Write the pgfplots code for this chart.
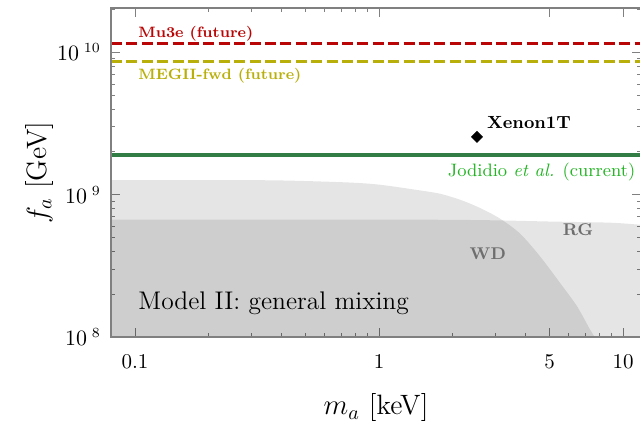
\documentclass[border=0pt]{standalone}
\usepackage{pgfplots}
\pgfplotsset{compat=1.18}
\definecolor{mured}{RGB}{185,5,5}
\definecolor{megol}{RGB}{185,175,10}
\definecolor{jgreen}{RGB}{50,125,70}
\definecolor{jtext}{RGB}{35,180,35}
\definecolor{axgray}{RGB}{128,128,128}
\definecolor{lblgray}{RGB}{110,110,110}
\begin{document}
\begin{tikzpicture}
\begin{axis}[name=ax,
  scale only axis, width=265pt, height=164.5pt,
  xmode=log, ymode=log, xmin=0.0797, xmax=11.85, ymin=1e8, ymax=2.053e10,
  axis line style={axgray, line width=0.7pt},
  tick style={axgray, line width=0.5pt},
  major tick length=4.5pt, minor tick length=2.2pt,
  tick align=inside,
  xtick={0.1,1,5,10}, xticklabels={0.1,1,5,10},
  minor xtick={0.2,0.3,0.4,0.5,0.6,0.7,0.8,0.9,2,3,4,6,7,8,9},
  xtick pos=left,
  ytick={1e8,1e9,1e10},
  yticklabels={$10^{\hspace{2.5pt}8}$,$10^{\hspace{2.5pt}9}$,$10^{\hspace{2.5pt}10}$},
  minor ytick={2e8,3e8,4e8,5e8,6e8,7e8,8e8,9e8,2e9,3e9,4e9,5e9,6e9,7e9,8e9,9e9,2e10},
  ytick pos=both,
  ticklabel style={font=\fontsize{10.5}{12}\selectfont},
  xticklabel style={yshift=-5pt},
  yticklabel style={xshift=-1.5pt},
  xlabel={$m_a$ [keV]}, ylabel={$f_a$ [GeV]},
  every axis x label/.style={at={([yshift=-35.5pt]axis description cs:0.5,0)}, anchor=center, font=\fontsize{14}{16}\selectfont},
  every axis y label/.style={at={([xshift=-35.5pt]axis description cs:0,0.5)}, rotate=90, anchor=center, font=\fontsize{14}{16}\selectfont},
]
% RG region
\addplot[draw=none, fill=black, fill opacity=0.1, smooth, tension=0.5] coordinates {
  (0.05,6.68e8) (1,6.68e8) (2,6.66e8) (3.1,6.6e8) (5,6.48e8) (8.84,6.36e8) (11.7,6.16e8) (14,6.1e8) (14,5e7) (0.05,5e7) (0.05,6.68e8)
};
% WD region
\addplot[draw=none, fill=black, fill opacity=0.1, smooth, tension=0.5] coordinates {
  (0.04,1.268e9) (0.2,1.267e9) (0.3928,1.26e9) (0.7395,1.220e9) (1.0095,1.175e9) (1.472,1.072e9)
  (1.778,1.016e9) (2.148,9.22e8) (2.594,8.07e8) (3.133,6.79e8) (3.784,5.33e8)
  (4.569,3.69e8) (5.518,2.40e8) (6.478,1.645e8) (7.324,1.129e8) (7.65,1e8) (8.2,7e7) (8.5,4e7) (0.04,4e7) (0.04,1.268e9)
};
% Mu3e
\addplot[mured, line width=1.5pt, dash pattern=on 5.5pt off 2.2pt] coordinates {(0.0797,1.147e10) (14,1.147e10)};
% MEGII-fwd
\addplot[megol, line width=1.5pt, dash pattern=on 5.5pt off 2.2pt] coordinates {(0.0797,8.62e9) (14,8.62e9)};
% Jodidio
\addplot[jgreen, line width=2pt] coordinates {(0.05,1.909e9) (14,1.909e9)};
% Xenon1T
\addplot[only marks, mark=square*, mark size=1.9pt, mark options={rotate=45, black}] coordinates {(2.52,2.55e9)};

\node[anchor=west, inner sep=0, text=mured, font=\fontsize{7.5}{9}\selectfont\bfseries] at (rel axis cs:0.051,0.921) {Mu3e (future)};
\node[anchor=west, inner sep=0, text=megol, font=\fontsize{7.5}{9}\selectfont\bfseries] at (rel axis cs:0.051,0.793) {MEGII-fwd (future)};
\node[anchor=west, inner sep=0, text=black, font=\fontsize{8.8}{10}\selectfont\bfseries] at (rel axis cs:0.709,0.653) {Xenon1T};
\node[anchor=east, inner sep=0, text=jtext, font=\fontsize{9}{10}\selectfont] at (rel axis cs:0.99,0.5015) {Jodidio \textit{et al.} (current)};
\node[inner sep=0, text=lblgray, font=\fontsize{8.5}{10}\selectfont\bfseries] at (rel axis cs:0.711,0.252) {WD};
\node[inner sep=0, text=lblgray, font=\fontsize{8.5}{10}\selectfont\bfseries] at (rel axis cs:0.881,0.325) {RG};
\node[anchor=west, inner sep=0, text=black, font=\fontsize{12.75}{14}\selectfont] at (rel axis cs:0.051,0.103) {Model II: general mixing};
\end{axis}
\begin{axis}[
  scale only axis, width=265pt, height=164.5pt,
  xmode=log, ymode=log, xmin=0.0797, xmax=11.85, ymin=1e8, ymax=2.053e10,
  axis line style={axgray, line width=0.7pt},
  tick style={axgray, line width=0.5pt},
  major tick length=4.5pt, minor tick length=2.2pt,
  tick align=inside,
  xtick={0.1,1,5,10}, xticklabels={},
  minor xtick={0.2,0.3,0.4,0.5,0.6,0.7,0.8,0.9},
  xtick pos=right,
  ytick={1e8}, yticklabels={}, minor ytick={1e8},
  ytick pos=left,
]
\end{axis}
\pgfresetboundingbox
\path[use as bounding box] ([xshift=-55.5pt,yshift=-42.5pt]ax.south west) rectangle ([xshift=-0.5pt,yshift=4pt]ax.north east);
\end{tikzpicture}
\end{document}
